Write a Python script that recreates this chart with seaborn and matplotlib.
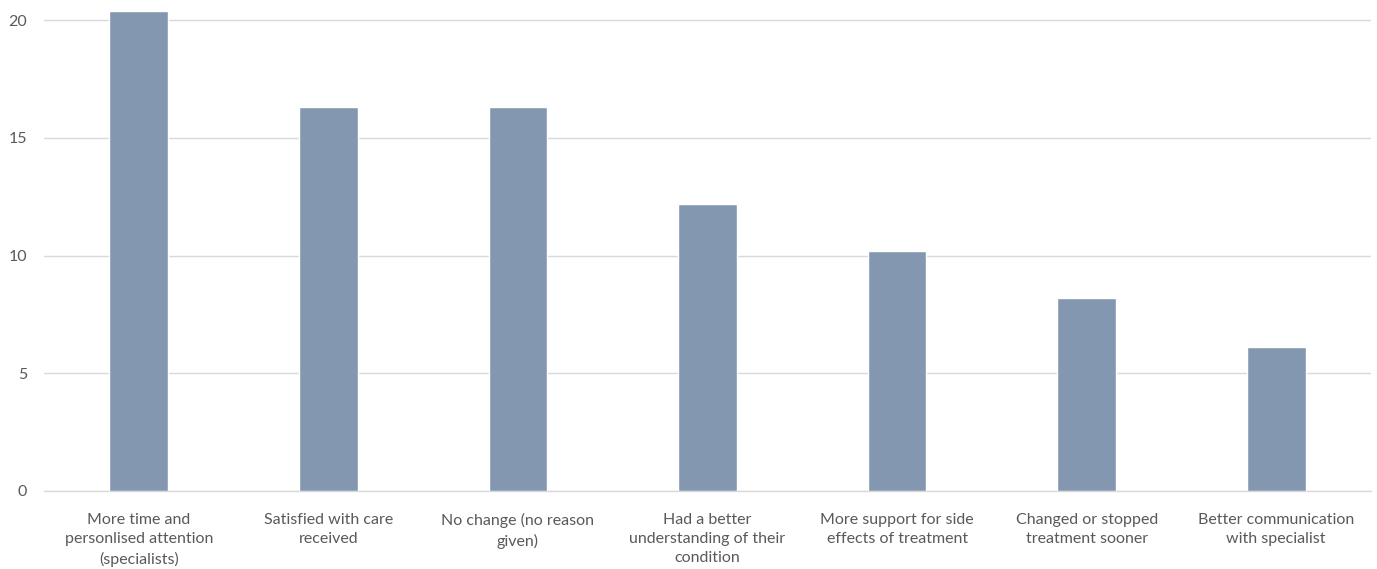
import matplotlib
matplotlib.use("Agg")
import matplotlib.pyplot as plt
import seaborn as sns
import pandas as pd

# Chart data
categories = [
    "More time and\npersonlised attention\n(specialists)",
    "Satisfied with care\nreceived",
    "No change (no reason\ngiven)",
    "Had a better\nunderstanding of their\ncondition",
    "More support for side\neffects of treatment",
    "Changed or stopped\ntreatment sooner",
    "Better communication\nwith specialist",
]
values = [20.4, 16.3, 16.3, 12.2, 10.2, 8.2, 6.1]
yticks = [0, 5, 10, 15, 20]

df = pd.DataFrame({"category": categories, "value": values})

sns.set_style("white")
plt.rcParams["font.family"] = ["Lato", "DejaVu Sans"]

fig = plt.figure(figsize=(13.77, 5.69), dpi=100)
ax = fig.add_axes([44 / 1377, 78 / 569, 1327 / 1377, 491 / 569])

sns.barplot(data=df, x="category", y="value", color="#8497B0",
            width=0.31, saturation=1, ax=ax, zorder=3)

ax.set_ylim(0, 20.85)
ax.set_xlim(-0.5, len(categories) - 0.5)
ax.set_yticks(yticks)
ax.yaxis.grid(True, color="#D9D9D9", linewidth=1, zorder=0)
ax.set_axisbelow(True)
for s in ["top", "right", "left"]:
    ax.spines[s].set_visible(False)
ax.spines["bottom"].set_color("#D9D9D9")
ax.spines["bottom"].set_linewidth(1)
ax.tick_params(axis="both", length=0, labelsize=11.5, labelcolor="#595959")
ax.tick_params(axis="y", pad=12)
ax.tick_params(axis="x", pad=16)
for lbl in ax.get_xticklabels():
    lbl.set_linespacing(1.45)
ax.set_xlabel("")
ax.set_ylabel("")

fig.savefig("out.png", dpi=100)
plt.close(fig)
